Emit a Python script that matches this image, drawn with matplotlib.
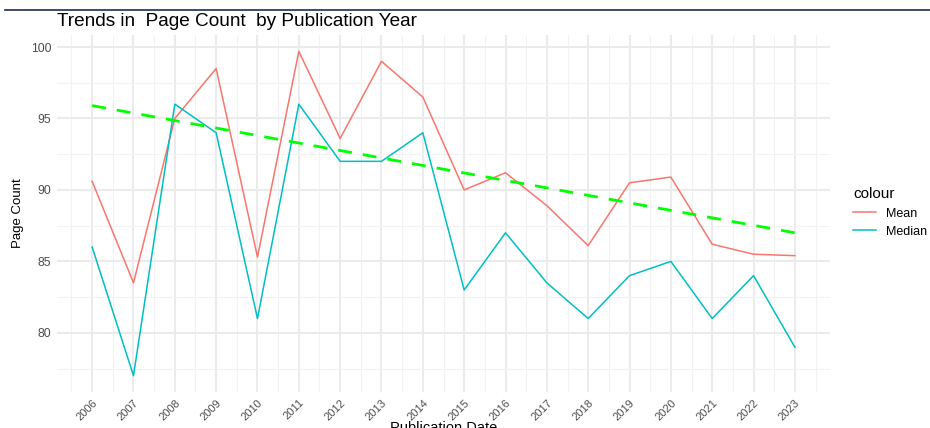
import numpy as np
import matplotlib
matplotlib.use("Agg")
import matplotlib.pyplot as plt
from matplotlib.ticker import MultipleLocator
from matplotlib.lines import Line2D

plt.rcParams['font.family'] = ['Liberation Sans', 'DejaVu Sans']

years = list(range(2006, 2024))
mean_pages = [90.6, 83.5, 95.0, 98.5, 85.3, 99.7, 93.6, 99.0, 96.5, 90.0,
              91.2, 88.9, 86.1, 90.5, 90.9, 86.2, 85.5, 85.4]
median_pages = [86, 77, 96, 94, 81, 96, 92, 92, 94, 83,
                87, 83.5, 81, 84, 85, 81, 84, 79]
trend_years = [2006, 2023]
trend_pages = [95.9, 87.0]

fig = plt.figure(figsize=(9.3, 4.28), dpi=100)
ax = fig.add_axes([57 / 930, 1 - 392 / 428, 773 / 930, 357 / 428])

ax.plot(years, mean_pages, color='#F8766D', lw=1.1)
ax.plot(years, median_pages, color='#00BFC4', lw=1.1)
ax.plot(trend_years, trend_pages, color='#00FF00', lw=2, ls=(0, (5, 4)))

ax.set_xlim(2005.15, 2023.85)
ax.set_ylim(75.86, 100.84)
ax.set_xticks(years)
ax.set_xticklabels([str(y) for y in years], rotation=45, ha='right',
                   rotation_mode='anchor', fontsize=8, color='#4D4D4D')
ax.xaxis.set_minor_locator(MultipleLocator(0.5))
ax.yaxis.set_major_locator(MultipleLocator(5))
ax.yaxis.set_minor_locator(MultipleLocator(2.5))
ax.tick_params(axis='y', labelsize=8.8, labelcolor='#4D4D4D')
ax.tick_params(which='both', length=0, pad=4)
ax.grid(which='major', color='#EBEBEB', lw=1.5)
ax.grid(which='minor', color='#F2F2F2', lw=0.8)
ax.set_axisbelow(True)
for s in ax.spines.values():
    s.set_visible(False)

ax.set_ylabel('Page Count', fontsize=9.5, labelpad=5)
ax.set_xlabel('Publication Date', fontsize=10.5, labelpad=-1)

fig.text(57 / 930, 1 - 21 / 428, 'Trends in  Page Count  by Publication Year',
         fontsize=13.7, va='center', ha='left')
fig.add_artist(Line2D([5 / 930, 1], [1 - 10 / 428, 1 - 10 / 428],
                      color='#1B2D4F', lw=1.2))

handles = [Line2D([], [], color='#F8766D', lw=1.1),
           Line2D([], [], color='#00BFC4', lw=1.1)]
leg = fig.legend(handles, ['Mean', 'Median'], title='colour',
                 loc='upper left', bbox_to_anchor=(842 / 930, 1 - 176 / 428),
                 frameon=False, fontsize=9, title_fontsize=11,
                 handlelength=1.8, alignment='left')

fig.savefig('out.png', dpi=100)
